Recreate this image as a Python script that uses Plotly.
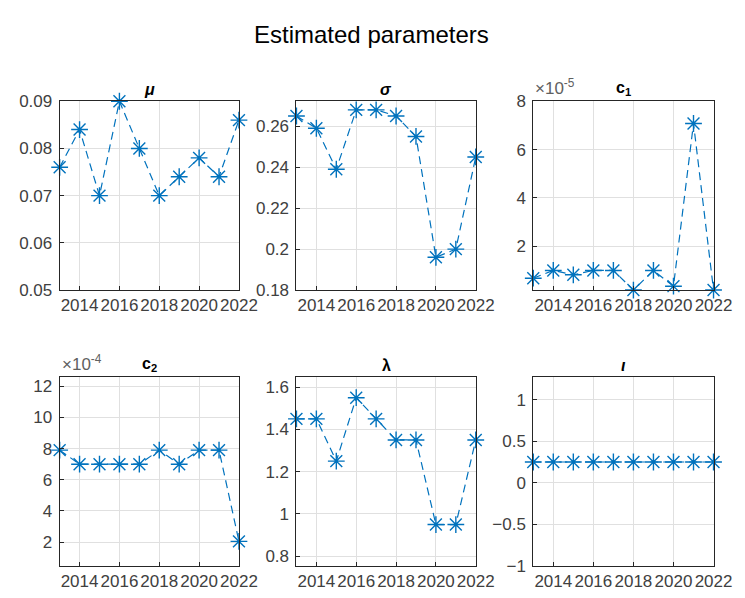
import plotly.graph_objects as go

years = [2013, 2014, 2015, 2016, 2017, 2018, 2019, 2020, 2021, 2022]
mu = [0.076, 0.084, 0.070, 0.090, 0.080, 0.070, 0.074, 0.078, 0.074, 0.086]
sigma = [0.265, 0.259, 0.239, 0.268, 0.268, 0.265, 0.255, 0.196, 0.200, 0.245]
c1_e5 = [0.68, 1.0, 0.82, 1.0, 1.0, 0.19, 1.0, 0.35, 7.08, 0.19]   # x 1e-5
c2_e4 = [7.9, 7.0, 7.0, 7.0, 7.0, 7.9, 7.0, 7.9, 7.9, 2.05]        # x 1e-4
lam = [1.45, 1.45, 1.25, 1.55, 1.45, 1.35, 1.35, 0.95, 0.95, 1.35]
iota = [0.25] * 10

x_ticks = [2014, 2016, 2018, 2020, 2022]

W, H = 745, 598
cols = [(53, 237), (296, 480), (539, 724)]
rows = [(87, 282), (372, 567)]

panels = [
    dict(y=mu, title="<b><i>μ</i></b>", yr=[0.05, 0.09], dt=0.01, exp=None),
    dict(y=sigma, title="<b><i>σ</i></b>", yr=[0.18, 0.2722], dt=0.02, exp=None),
    dict(y=c1_e5, title="<b>c<sub>1</sub></b>", yr=[0.19, 8.0], dt=2, exp="-5"),
    dict(y=c2_e4, title="<b>c<sub>2</sub></b>", yr=[0.47, 12.58], dt=2, exp="-4"),
    dict(y=lam, title="<b>λ</b>", yr=[0.754, 1.647], dt=0.2, exp=None),
    dict(y=iota, title="<b><i>ι</i></b>", yr=[-1, 1.27], dt=0.5, exp=None),
]

fig = go.Figure()
blue = "#0072BD"
axcol = "#404040"
font_fam = "Liberation Sans, Arial"
annotations = []
for i, p in enumerate(panels):
    r, c = divmod(i, 3)
    x0, x1 = cols[c]
    yt, yb = rows[r]
    n = i + 1
    xa = "x" if n == 1 else f"x{n}"
    ya = "y" if n == 1 else f"y{n}"
    fig.add_trace(go.Scatter(
        x=years, y=p["y"], mode="lines+markers", xaxis=xa, yaxis=ya,
        line=dict(color=blue, width=1.2, dash="8px,5px"),
        marker=dict(symbol="asterisk-open", size=14, color=blue,
                    line=dict(color=blue, width=1.4)),
        cliponaxis=False, showlegend=False,
    ))
    common = dict(showgrid=True, gridcolor="#e0e0e0", gridwidth=1,
                  showline=True, linecolor="#262626", linewidth=1, mirror=True,
                  ticks="inside", ticklen=4, tickcolor="#262626",
                  tickfont=dict(family=font_fam, size=17, color=axcol),
                  zeroline=False)
    fig.update_layout(**{
        ("xaxis" if n == 1 else f"xaxis{n}"): dict(
            domain=[x0 / W, x1 / W], range=[2013, 2022], tickvals=x_ticks,
            anchor=ya, **common),
        ("yaxis" if n == 1 else f"yaxis{n}"): dict(
            domain=[1 - yb / H, 1 - yt / H], range=p["yr"], dtick=p["dt"],
            tick0=0, anchor=xa, ticklabelstandoff=3, **common),
    })
    annotations.append(dict(
        text=p["title"], x=(x0 + x1) / 2 / W, y=1 - (yt - 1) / H,
        xref="paper", yref="paper", xanchor="center", yanchor="bottom",
        showarrow=False, font=dict(family=font_fam, size=16, color="#000000")))
    if p["exp"]:
        annotations.append(dict(
            text=f"×10<sup>{p['exp']}</sup>", x=x0 / W, y=1 - (yt - 1) / H,
            xref="paper", yref="paper", xanchor="left", yanchor="bottom",
            showarrow=False, font=dict(family=font_fam, size=17, color="#606060")))

annotations.append(dict(
    text="Estimated parameters", x=0.5, y=1 - 18 / H, xref="paper", yref="paper",
    xanchor="center", yanchor="middle", showarrow=False,
    font=dict(family=font_fam, size=24, color="#000000")))

fig.update_layout(
    width=W, height=H, margin=dict(l=0, r=0, t=0, b=0),
    paper_bgcolor="white", plot_bgcolor="white",
    annotations=annotations,
)
fig.write_html("out.html")
